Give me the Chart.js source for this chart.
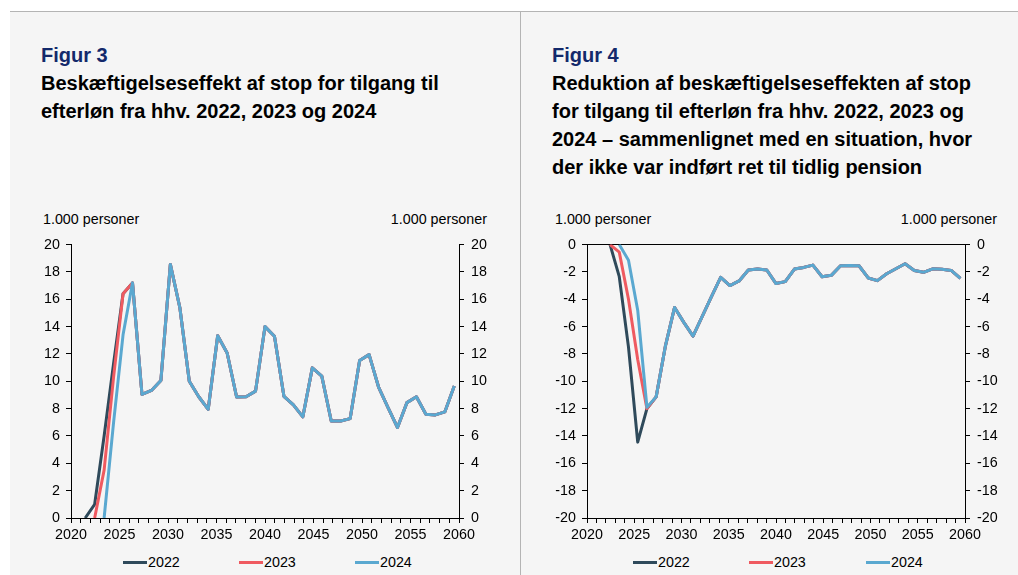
<!DOCTYPE html>
<html>
<head>
<meta charset="utf-8">
<script src="https://cdn.jsdelivr.net/npm/chart.js@4.4.1/dist/chart.umd.min.js"></script>
<style>
  body { margin: 0; width: 1018px; height: 575px; background: #fff; position: relative; overflow: hidden;
         font-family: 'Liberation Sans', Arial, sans-serif; color: #000; }
  .panel { position: absolute; top: 11px; bottom: 0; background: #f5f5f5; border-top: 1px solid #b4b4b4; }
  #panel3 { left: 10px; width: 510px; }
  #panel4 { left: 520px; width: 498px; border-left: 1px solid #b4b4b4; }
  .title { position: absolute; top: 41px; font-weight: bold; font-size: 20px; line-height: 28px; white-space: nowrap; }
  .title .fig { color: #13296b; }
  .unit { position: absolute; top: 211px; font-size: 14.3px; line-height: 16px; white-space: nowrap; }
  canvas { position: absolute; top: 229px; }
  .legend { position: absolute; top: 553px; font-size: 14.3px; line-height: 18px; white-space: nowrap; }
  .legend span.ln { display: inline-block; width: 24px; height: 3px; vertical-align: middle; margin-right: 1px; margin-top: -2px; }
</style>
</head>
<body>
<div class="panel" id="panel3"></div>
<div class="panel" id="panel4"></div>

<div class="title" style="left:41px"><span class="fig">Figur 3</span><br>Beskæftigelseseffekt af stop for tilgang til<br>efterløn fra hhv. 2022, 2023 og 2024</div>
<div class="title" style="left:552px"><span class="fig">Figur 4</span><br>Reduktion af beskæftigelseseffekten af stop<br>for tilgang til efterløn fra hhv. 2022, 2023 og<br>2024 – sammenlignet med en situation, hvor<br>der ikke var indført ret til tidlig pension</div>

<div class="unit" style="left:43px">1.000 personer</div>
<div class="unit" style="right:531px">1.000 personer</div>
<div class="unit" style="left:555px">1.000 personer</div>
<div class="unit" style="right:21px">1.000 personer</div>

<canvas id="chart3" width="509" height="319" style="left:10px"></canvas>
<canvas id="chart4" width="497" height="319" style="left:521px"></canvas>

<div id="legend3"></div>
<div id="legend4"></div>

<script>
// år på x-aksen
const years = [2020, 2021, 2022, 2023, 2024, 2025, 2026, 2027, 2028, 2029,
               2030, 2031, 2032, 2033, 2034, 2035, 2036, 2037, 2038, 2039,
               2040, 2041, 2042, 2043, 2044, 2045, 2046, 2047, 2048, 2049,
               2050, 2051, 2052, 2053, 2054, 2055, 2056, 2057, 2058, 2059, 2060];
const xTickLabels = [2020, 2025, 2030, 2035, 2040, 2045, 2050, 2055, 2060];
const seriesNames = ['2022', '2023', '2024'];
const seriesColors = ['#2f4a5b', '#ef5a60', '#5aa8d0'];

// Figur 3 - beskæftigelseseffekt (1.000 personer)
const fig3_2022 = [null, 0, 1.0, 6.0, 11.3, 16.4, 17.2, 9.04, 9.33, 10.06,
                   18.55, 15.4, 10.0, 8.87, 7.95, 13.33, 12.07, 8.85, 8.87, 9.28,
                   14.0, 13.29, 8.9, 8.27, 7.4, 10.98, 10.38, 7.1, 7.1, 7.27,
                   11.52, 11.95, 9.58, 8.07, 6.62, 8.44, 8.87, 7.59, 7.54, 7.76, 9.65];
const fig3_2023 = [null, null, 0, 3.5, 10.3, 16.4, 17.2, 9.04, 9.33, 10.06,
                   18.55, 15.4, 10.0, 8.87, 7.95, 13.33, 12.07, 8.85, 8.87, 9.28,
                   14.0, 13.29, 8.9, 8.27, 7.4, 10.98, 10.38, 7.1, 7.1, 7.27,
                   11.52, 11.95, 9.58, 8.07, 6.62, 8.44, 8.87, 7.59, 7.54, 7.76, 9.65];
const fig3_2024 = [null, null, null, 0, 7.0, 13.4, 17.2, 9.04, 9.33, 10.06,
                   18.55, 15.4, 10.0, 8.87, 7.95, 13.33, 12.07, 8.85, 8.87, 9.28,
                   14.0, 13.29, 8.9, 8.27, 7.4, 10.98, 10.38, 7.1, 7.1, 7.27,
                   11.52, 11.95, 9.58, 8.07, 6.62, 8.44, 8.87, 7.59, 7.54, 7.76, 9.65];

// Figur 4 - reduktion ift. situation uden tidlig pension
const fig4_2022 = [null, null, 0, -2.35, -7.5, -14.45, -12.0, -11.14, -7.43, -4.6,
                   -5.69, -6.7, -5.25, -3.8, -2.4, -3.0, -2.66, -1.86, -1.79, -1.86,
                   -2.85, -2.71, -1.79, -1.67, -1.5, -2.35, -2.25, -1.55, -1.53, -1.55,
                   -2.44, -2.64, -2.13, -1.77, -1.4, -1.89, -2.03, -1.77, -1.81, -1.89, -2.47];
const fig4_2023 = [null, null, 0, -0.55, -4.0, -8.4, -12.0, -11.14, -7.43, -4.6,
                   -5.69, -6.7, -5.25, -3.8, -2.4, -3.0, -2.66, -1.86, -1.79, -1.86,
                   -2.85, -2.71, -1.79, -1.67, -1.5, -2.35, -2.25, -1.55, -1.53, -1.55,
                   -2.44, -2.64, -2.13, -1.77, -1.4, -1.89, -2.03, -1.77, -1.81, -1.89, -2.47];
const fig4_2024 = [null, null, null, 0, -1.15, -4.8, -11.9, -11.14, -7.43, -4.6,
                   -5.69, -6.7, -5.25, -3.8, -2.4, -3.0, -2.66, -1.86, -1.79, -1.86,
                   -2.85, -2.71, -1.79, -1.67, -1.5, -2.35, -2.25, -1.55, -1.53, -1.55,
                   -2.44, -2.64, -2.13, -1.77, -1.4, -1.89, -2.03, -1.77, -1.81, -1.89, -2.47];

Chart.defaults.font.family = "'Liberation Sans', Arial, sans-serif";
Chart.defaults.font.size = 14.3;
Chart.defaults.color = '#000';

function yAxis(pos, min, max, width, pad, zeroLine) {
    return {
        position: pos,
        min: min,
        max: max,
        afterFit: s => { s.width = width; },
        border: { color: '#000', width: 1 },
        grid: {
            drawOnChartArea: zeroLine,
            color: c => (c.tick && c.tick.value === 0) ? '#000' : 'rgba(0,0,0,0)',
            tickColor: '#000',
            tickLength: 5
        },
        ticks: { stepSize: 2, padding: pad, color: '#000' }
    };
}

function makeChart(id, data, yMin, yMax, leftW, rightW, zeroLine) {
    const ctx = document.getElementById(id).getContext('2d');
    return new Chart(ctx, {
        type: 'line',
        data: {
            labels: years,
            datasets: data.map((d, i) => ({
                label: seriesNames[i],
                data: d,
                borderColor: seriesColors[i],
                backgroundColor: seriesColors[i],
                borderWidth: 3,
                pointRadius: 0,
                fill: false,
                tension: 0,
                borderJoinStyle: 'round',
                order: 3 - i   // 2024 drawn on top
            }))
        },
        options: {
            responsive: false,
            animation: false,
            devicePixelRatio: 1,
            layout: { padding: 0 },
            plugins: { legend: { display: false }, tooltip: { enabled: false } },
            scales: {
                // data axis: each year sits in the middle of its slot
                x: { type: 'linear', display: false, min: 2019.5, max: 2060.5 },
                // visible year axis
                xt: {
                    type: 'linear',
                    position: 'bottom',
                    min: 2020,
                    max: 2060,
                    afterFit: s => { s.height = 30; },
                    border: { color: '#000', width: 1 },
                    grid: { drawOnChartArea: false, tickColor: '#000', tickLength: 5 },
                    ticks: {
                        stepSize: 1, autoSkip: false, maxRotation: 0, padding: 3, color: '#000',
                        callback: v => xTickLabels.includes(v) ? String(v) : ''
                    }
                },
                y: yAxis('left', yMin, yMax, leftW, 6, zeroLine),
                y2: yAxis('right', yMin, yMax, rightW, 7, false)
            }
        }
    });
}

function makeLegend(id, positions) {
    const el = document.getElementById(id);
    el.innerHTML = seriesNames.map((n, i) =>
        '<div class="legend" style="left:' + positions[i] + 'px"><span class="ln" style="background:' +
        seriesColors[i] + '"></span>' + n + '</div>').join('');
}

makeChart('chart3', [fig3_2022, fig3_2023, fig3_2024], 0, 20, 61, 60, false);
makeChart('chart4', [fig4_2022, fig4_2023, fig4_2024], -20, 0, 66, 53, true);
makeLegend('legend3', [123, 239, 355]);
makeLegend('legend4', [633, 749, 866]);
</script>
</body>
</html>
